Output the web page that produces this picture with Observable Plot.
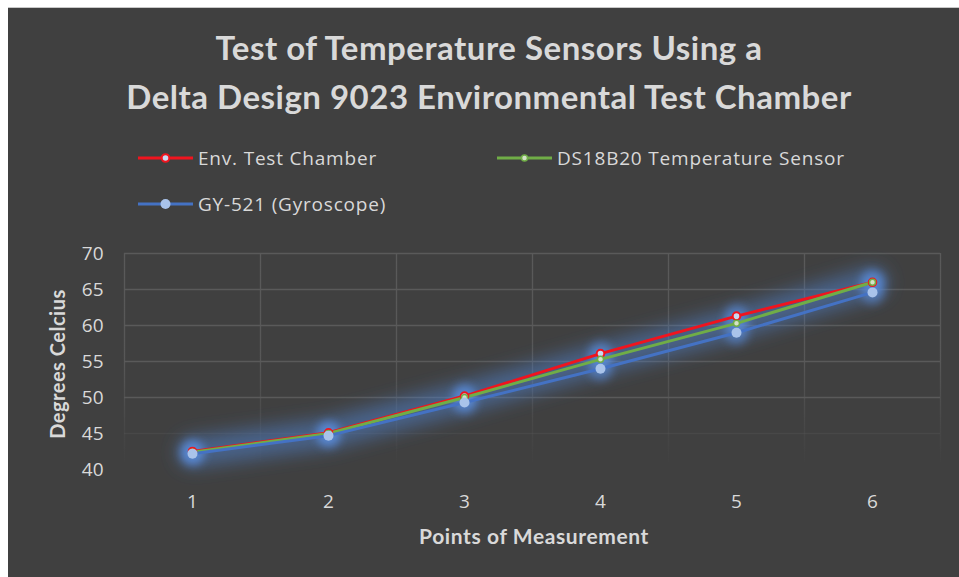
<!DOCTYPE html>
<html><head><meta charset="utf-8">
<script src="https://cdn.jsdelivr.net/npm/d3@7"></script>
<script src="https://cdn.jsdelivr.net/npm/@observablehq/plot@0.6"></script>
<style>
body{margin:0;background:#fff;width:959px;height:577px;overflow:hidden;position:relative;font-family:"Open Sans",sans-serif}
#bg{position:absolute;left:8px;top:7px;width:951px;height:570px;background:#404040;border-top:1px solid #c8c8c8;box-sizing:border-box}
#title{position:absolute;left:0;top:23px;width:978px;text-align:center;font-family:Lato,sans-serif;font-weight:700;font-size:33px;letter-spacing:0.5px;line-height:49px;color:#d9d9d9}
.leg{position:absolute;display:flex;align-items:center;color:#d9d9d9;font-size:19px;letter-spacing:0.8px;white-space:nowrap;height:24px}
.leg svg{margin-right:4px}
#ytitle{position:absolute;left:57px;top:364px;transform:translate(-50%,-50%) rotate(-90deg);font-family:Lato,sans-serif;font-weight:700;font-size:20px;letter-spacing:0.5px;color:#d9d9d9;white-space:nowrap}
#xtitle{position:absolute;left:534px;top:535px;transform:translate(-50%,-50%);font-family:Lato,sans-serif;font-weight:700;font-size:21px;letter-spacing:0.6px;color:#d9d9d9;white-space:nowrap}
#plot{position:absolute;left:8px;top:230px}
</style></head>
<body>
<div id="bg"></div>
<div id="title">Test of Temperature Sensors Using a<br>Delta Design 9023 Environmental Test Chamber</div>
<div id="legend"></div>
<div id="ytitle">Degrees Celcius</div>
<div id="xtitle">Points of Measurement</div>
<div id="plot"></div>
<script>
const points = [1, 2, 3, 4, 5, 6];
const envChamber = [42.5, 45.1, 50.2, 56.1, 61.3, 66.0];
const ds18b20 = [42.4, 45.0, 50.0, 55.3, 60.3, 66.0];
const gy521 = [42.2, 44.7, 49.3, 54.0, 59.0, 64.6];
const yTicks = [40, 45, 50, 55, 60, 65, 70];
const seriesNames = ["Env. Test Chamber", "DS18B20 Temperature Sensor", "GY-521 (Gyroscope)"];
const seriesColors = ["#f0141e", "#70ad47", "#4472c4"];
const glowLineColor = "#4f80c9";
const glowDotColor = "#5a8ad9";

const toRows = (vals, name) => vals.map((v, i) => ({x: points[i], y: v, name}));
const env = toRows(envChamber, seriesNames[0]);
const ds = toRows(ds18b20, seriesNames[1]);
const gy = toRows(gy521, seriesNames[2]);
const all = env.concat(ds, gy);
const gridX = points.map(p => p - 0.5).concat([points[points.length - 1] + 0.5]);
const gridYStrong = yTicks.filter(v => v >= 50);
const gridYFaint = [45];

const svg = Plot.plot({
  width: 951, height: 347,
  marginLeft: 116, marginRight: 19, marginTop: 23, marginBottom: 108,
  style: {background: "transparent", color: "#d9d9d9", fontFamily: "Open Sans", fontSize: "19px"},
  x: {domain: [0.5, 6.5], ticks: points, tickFormat: d => String(d), tickSize: 0, tickPadding: 25, label: null},
  y: {domain: [40, 70], ticks: yTicks, tickSize: 0, tickPadding: 21, label: null},
  marks: [
    Plot.ruleY(gridYStrong, {y: d => d, stroke: "#5a5a5a", strokeWidth: 1.3}),
    Plot.ruleY(gridYFaint, {y: d => d, stroke: "#5a5a5a", strokeWidth: 1.3, strokeOpacity: 0.35}),
    Plot.ruleX(gridX, {x: d => d, y1: 70, y2: 41, stroke: "url(#vfade)", strokeWidth: 1.3}),
    Plot.line(ds, {x: "x", y: "y", stroke: glowLineColor, strokeWidth: 30, strokeOpacity: 0.55}),
    Plot.dot(all, {x: "x", y: "y", r: 12, fill: glowDotColor, fillOpacity: 0.55}),
    Plot.line(env, {x: "x", y: "y", stroke: seriesColors[0], strokeWidth: 3}),
    Plot.line(ds, {x: "x", y: "y", stroke: seriesColors[1], strokeWidth: 3}),
    Plot.line(gy, {x: "x", y: "y", stroke: seriesColors[2], strokeWidth: 3}),
    Plot.dot(env, {x: "x", y: "y", r: 3.8, stroke: seriesColors[0], strokeWidth: 2, fill: "#c9d9f2"}),
    Plot.dot(ds, {x: "x", y: "y", r: 3, stroke: seriesColors[1], strokeWidth: 1.5, fill: "#d4e2c8"}),
    Plot.dot(gy, {x: "x", y: "y", r: 5, fill: "#a9c3ea", stroke: "none"})
  ]
});
const s = d3.select(svg);
const defs = s.insert("defs", ":first-child");
const g = defs.append("linearGradient").attr("id", "vfade").attr("gradientUnits", "userSpaceOnUse")
  .attr("x1", 0).attr("x2", 0).attr("y1", 23).attr("y2", 239);
g.append("stop").attr("offset", "0").attr("stop-color", "#5a5a5a").attr("stop-opacity", 1);
g.append("stop").attr("offset", "0.5").attr("stop-color", "#5a5a5a").attr("stop-opacity", 0.9);
g.append("stop").attr("offset", "0.85").attr("stop-color", "#5a5a5a").attr("stop-opacity", 0.2);
g.append("stop").attr("offset", "1").attr("stop-color", "#5a5a5a").attr("stop-opacity", 0);
const f1 = defs.append("filter").attr("id", "blurLine").attr("filterUnits", "userSpaceOnUse")
  .attr("x", 0).attr("y", 0).attr("width", 951).attr("height", 347);
f1.append("feGaussianBlur").attr("stdDeviation", 9);
const f2 = defs.append("filter").attr("id", "blurDot").attr("filterUnits", "userSpaceOnUse")
  .attr("x", 0).attr("y", 0).attr("width", 951).attr("height", 347);
f2.append("feGaussianBlur").attr("stdDeviation", 4);
s.selectAll("g").filter(function() { return this.getAttribute("stroke") === glowLineColor; }).attr("filter", "url(#blurLine)");
s.selectAll("g").filter(function() { return this.getAttribute("fill") === glowDotColor; }).attr("filter", "url(#blurDot)");
document.getElementById("plot").appendChild(svg);

// legend
const legendPos = [[138, 158], [497, 158], [138, 204]];
const legendMarker = [
  {r: 3.8, fill: "#c9d9f2", stroke: seriesColors[0], sw: 2},
  {r: 3, fill: "#d4e2c8", stroke: seriesColors[1], sw: 1.5},
  {r: 5, fill: "#a9c3ea", stroke: "none", sw: 0}
];
const legend = d3.select("#legend");
seriesNames.forEach((name, i) => {
  const item = legend.append("div").attr("class", "leg")
    .style("left", legendPos[i][0] + "px").style("top", (legendPos[i][1] - 12) + "px");
  const sv = item.append("svg").attr("width", 56).attr("height", 24);
  sv.append("line").attr("x1", 0).attr("x2", 55).attr("y1", 12).attr("y2", 12)
    .attr("stroke", seriesColors[i]).attr("stroke-width", 3);
  const m = legendMarker[i];
  sv.append("circle").attr("cx", 27.5).attr("cy", 12).attr("r", m.r)
    .attr("fill", m.fill).attr("stroke", m.stroke).attr("stroke-width", m.sw);
  item.append("span").text(name);
});
</script>
</body></html>
